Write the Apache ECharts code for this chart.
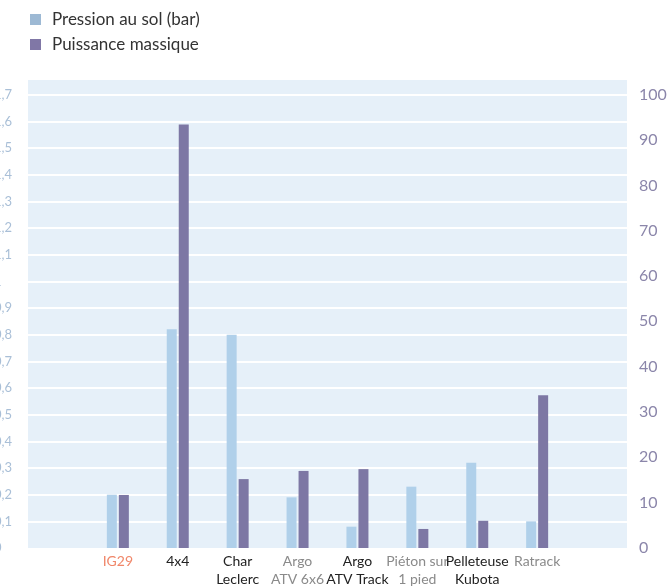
<!DOCTYPE html>
<html><head><meta charset="utf-8">
<script src="https://cdn.jsdelivr.net/npm/echarts@6/dist/echarts.min.js"></script>
<style>html,body{margin:0;padding:0;background:#fff}#c{width:667px;height:586px}</style>
</head><body><div id="c"></div>
<script>
const categories = ['', 'IG29', '4x4', 'Char\nLeclerc', 'Argo\nATV 6x6', 'Argo\nATV Track', 'Piéton sur\n1 pied', 'Pelleteuse\nKubota', 'Ratrack', ''];
const labelColors = ['#333', '#f0876a', '#222', '#222', '#8a8a8a', '#222', '#8a8a8a', '#222', '#8a8a8a', '#333'];
const pression = [null, 0.2, 0.82, 0.8, 0.19, 0.08, 0.23, 0.32, 0.1, null];
const puissance = [null, 11.7, 93.4, 15.2, 17.0, 17.4, 4.2, 6.0, 33.7, null];
const seriesNames = ['Pression au sol (bar)', 'Puissance massique'];

const FONT = 'Lato, "Open Sans", sans-serif';
const chart = echarts.init(document.getElementById('c'), null, {renderer: 'canvas'});
chart.setOption({
  animation: false,
  textStyle: {fontFamily: FONT},
  legend: {
    left: 25, top: 6, orient: 'vertical', itemGap: 8,
    itemWidth: 11, itemHeight: 11, icon: 'rect',
    textStyle: {fontSize: 17, color: '#333', fontFamily: FONT, padding: [0, 0, 0, 6]},
    data: [
      {name: seriesNames[0], itemStyle: {color: '#9db9d4'}},
      {name: seriesNames[1], itemStyle: {color: '#8077a6'}}
    ]
  },
  grid: {left: 28, right: 40, top: 80, bottom: 38, show: true, backgroundColor: '#e6f0f9', borderWidth: 0,
    containLabel: false, outerBoundsMode: 'none'},
  xAxis: {
    type: 'category',
    data: categories.map((c, i) => ({value: c, textStyle: {color: labelColors[i]}})),
    axisLine: {show: false}, axisTick: {show: false},
    axisLabel: {interval: 0, fontSize: 14, lineHeight: 18, margin: 4, fontFamily: FONT}
  },
  yAxis: [
    {
      type: 'value', min: 0, max: 1.755, interval: 0.1,
      axisLine: {show: false}, axisTick: {show: false},
      splitLine: {show: true, showMaxLine: false, showMinLine: false, lineStyle: {color: '#ffffff', width: 2}},
      axisLabel: {showMaxLabel: false, margin: 34, align: 'left', fontSize: 13, color: '#a9bfd7', fontFamily: FONT,
        formatter: v => (Math.round(v * 10) / 10).toString().replace('.', ',')}
    },
    {
      type: 'value', min: 0, max: 103.24, interval: 10, position: 'right',
      axisLine: {show: false}, axisTick: {show: false}, splitLine: {show: false},
      axisLabel: {showMaxLabel: false, margin: 12, fontSize: 16, color: '#8b86aa', fontFamily: FONT}
    }
  ],
  series: [
    {name: seriesNames[0], type: 'bar', yAxisIndex: 0, data: pression, barWidth: 10, barGap: '20%',
      itemStyle: {color: '#b0d0ea'}},
    {name: seriesNames[1], type: 'bar', yAxisIndex: 1, data: puissance, barWidth: 10, barGap: '20%',
      itemStyle: {color: '#7d77a4'}}
  ]
});
</script></body></html>
